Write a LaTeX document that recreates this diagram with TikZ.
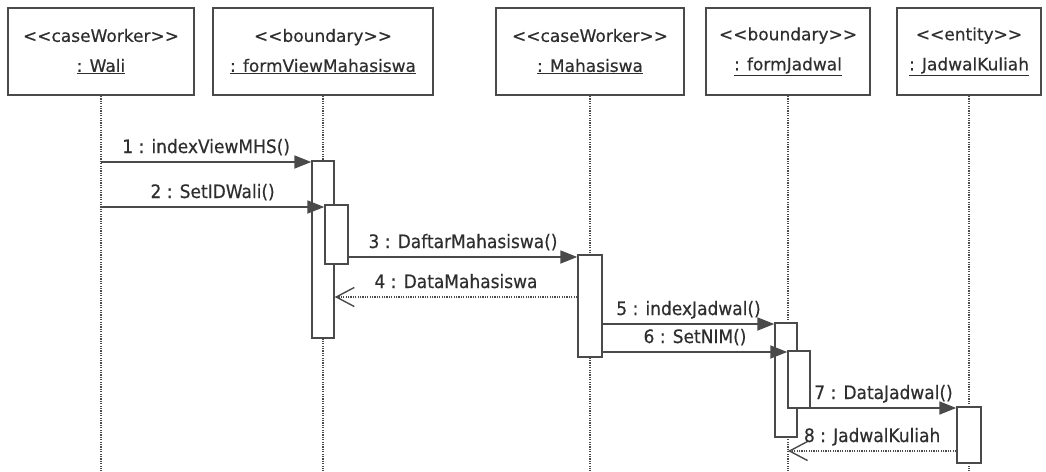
\documentclass[tikz,border=0pt]{standalone}
\usepackage{fontspec}
\setmainfont{DejaVu Sans}[Ligatures=TeXOff, FakeBold=0.4]
\newfontfamily\msgfont{DejaVu Sans}[Ligatures=TeXOff, FakeStretch=0.92, FakeBold=0.4]
\usetikzlibrary{arrows.meta}
\definecolor{ink}{HTML}{4A4A4A}
\definecolor{txt}{HTML}{2E2E2E}
\begin{document}
\begin{tikzpicture}[x=1pt,y=-1pt,
  objbox/.style={draw=ink, line width=1.8pt, fill=white, minimum height=87pt,
    inner sep=0pt, align=center, text=txt, font=\fontsize{17}{30}\selectfont},
  lifeline/.style={draw=ink, line width=1.8pt, dash pattern=on 1.2pt off 1.2pt},
  actbar/.style={draw=ink, line width=1.5pt, fill=white, inner sep=0pt},
  call/.style={draw=ink, line width=1.8pt, -{Triangle[length=17pt,width=13pt]}},
  reply/.style={draw=ink, line width=1.6pt, dash pattern=on 1.2pt off 1.2pt,
    -{Straight Barb[length=18pt,width=19pt,line width=1.4pt]}},
  msglabel/.style={midway, anchor=base, yshift=9pt, text=txt,
    font=\msgfont\fontsize{18.5}{20}\selectfont, inner sep=0pt}
]
\fill[white] (0,0) rectangle (1046,471);
\useasboundingbox (0,0) rectangle (1046,471);

% objects
\node[objbox, minimum width=186pt] (wali) at (101,51.5) {<<caseWorker>>\\\underline{: Wali}};
\node[objbox, minimum width=220pt] (fvm)  at (323,51.5) {<<boundary>>\\\underline{: formViewMahasiswa}};
\node[objbox, minimum width=188pt] (mhs)  at (590,51.5) {<<caseWorker>>\\\underline{: Mahasiswa}};
\node[objbox, minimum width=164pt] (fj)   at (788,51.5) {<<boundary>>\\\underline{: formJadwal}};
\node[objbox, minimum width=144pt] (jk)   at (969,51.5) {<<entity>>\\\underline{: JadwalKuliah}};

% lifelines
\coordinate (waliEnd) at (wali.south |- 0,471);
\coordinate (fvmEnd)  at (fvm.south |- 0,471);
\coordinate (mhsEnd)  at (mhs.south |- 0,471);
\coordinate (fjEnd)   at (fj.south |- 0,471);
\coordinate (jkEnd)   at (jk.south |- 0,471);
\draw[lifeline] (wali.south) -- (waliEnd);
\draw[lifeline] (fvm.south) -- (fvmEnd);
\draw[lifeline] (mhs.south) -- (mhsEnd);
\draw[lifeline] (fj.south) -- (fjEnd);
\draw[lifeline] (jk.south) -- (jkEnd);

% activation bars
\node[actbar, minimum width=22pt, minimum height=177pt] (barA) at (323,249.5) {};
\node[actbar, minimum width=23pt, minimum height=59pt]  (barB) at (336.5,234.5) {};
\node[actbar, minimum width=24pt, minimum height=102pt] (barC) at (590,306) {};
\node[actbar, minimum width=22pt, minimum height=114pt] (barD) at (786,380) {};
\node[actbar, minimum width=22pt, minimum height=57pt]  (barE) at (799,379.5) {};
\node[actbar, minimum width=24pt, minimum height=56pt]  (barF) at (969,435) {};

% messages
\draw[call] (wali.south |- 0,162) -- (barA.west |- 0,162) node[msglabel] {1 : indexViewMHS()};
\draw[call] (wali.south |- 0,207) -- (barB.west |- 0,207) node[msglabel] {2 : SetIDWali()};
\draw[call] (barB.east |- 0,257) -- (barC.west |- 0,257) node[msglabel] {3 : DaftarMahasiswa()};
\draw[reply] (barC.west |- 0,297) -- (barA.east |- 0,297) node[msglabel] {4 : DataMahasiswa};
\draw[call] (barC.east |- 0,324) -- (barD.west |- 0,324) node[msglabel] {5 : indexJadwal()};
\draw[call] (barC.east |- 0,352) -- (barE.west |- 0,352) node[msglabel] {6 : SetNIM()};
\draw[call] (barE.east |- 0,408) -- (barF.west |- 0,408) node[msglabel] {7 : DataJadwal()};
\draw[reply] (barF.west |- 0,451) -- (fj.south |- 0,451) node[msglabel] {8 : JadwalKuliah};
\end{tikzpicture}
\end{document}
